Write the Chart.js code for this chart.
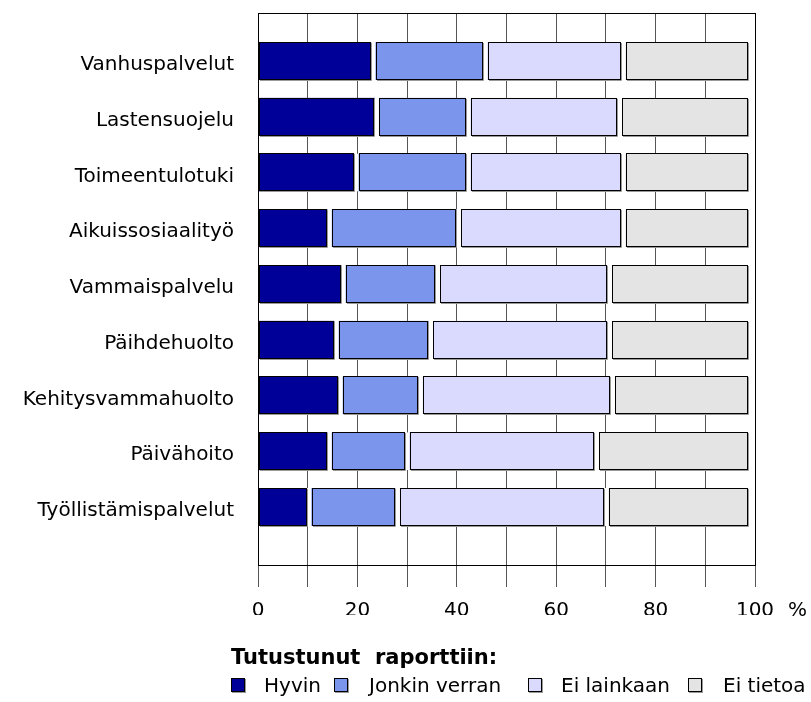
<!DOCTYPE html>
<html>
<head>
<meta charset="utf-8">
<script src="https://cdn.jsdelivr.net/npm/chart.js@4"></script>
<style>
    body { margin: 0; background: #fff; }
    #wrap { position: relative; width: 811px; height: 702px; }
    #legend { position: absolute; left: 0; top: 0; width: 811px; height: 702px; pointer-events: none;
        font-family: Verdana, "DejaVu Sans", sans-serif; font-size: 20px; color: #000; }
    #legend .title { position: absolute; left: 231px; top: 645px; font-size: 21px; font-weight: bold; line-height: 24px; white-space: pre; }
    #legend .txt { position: absolute; top: 673px; line-height: 24px; white-space: pre; }
    #legend .box { position: absolute; top: 678px; width: 12px; height: 12px; border: 1px solid #000; box-shadow: 1px 1px 0 #999; }
</style>
</head>
<body>
<div id="wrap">
    <canvas id="chart" width="811" height="702"></canvas>
    <div id="legend"></div>
</div>
<script>
const categories = ['Vanhuspalvelut', 'Lastensuojelu', 'Toimeentulotuki', 'Aikuissosiaalityö',
    'Vammaispalvelu', 'Päihdehuolto', 'Kehitysvammahuolto', 'Päivähoito', 'Työllistämispalvelut'];
const hyvin = [23.1, 23.8, 19.7, 14.3, 17.1, 15.7, 16.5, 14.3, 10.2];
const jonkinVerran = [22.5, 18.4, 22.5, 26.0, 19.0, 19.0, 16.1, 15.6, 17.8];
const eiLainkaan = [27.8, 30.5, 31.2, 33.1, 34.6, 36.0, 38.7, 38.2, 42.0];
const eiTietoa = [25.5, 26.2, 25.5, 25.5, 28.2, 28.2, 27.6, 30.8, 28.9];
const seriesNames = ['Hyvin', 'Jonkin verran', 'Ei lainkaan', 'Ei tietoa'];
const xTickLabels = [0, 20, 40, 60, 80, 100];
const legendTitle = 'Tutustunut  raporttiin:';

const colors = ['#000099', '#7b95ed', '#dadaff', '#e4e4e4'];
const font = { family: 'Verdana, "DejaVu Sans", sans-serif', size: 20 };
const xLabelPad = 12;

// bars are drawn with a white side border, this leaves the gaps between segments
function sideBorder(i) {
    return { left: i === 0 ? 0 : 3, right: 2, top: 0, bottom: 0 };
}

const datasets = [hyvin, jonkinVerran, eiLainkaan, eiTietoa].map((values, i) => ({
    label: seriesNames[i],
    data: values,
    backgroundColor: colors[i],
    borderColor: '#fff',
    borderWidth: sideBorder(i),
    borderSkipped: false,
    barThickness: 38
}));

// black outline + small grey shadow on every segment, plus the plot frame and the % sign
const decorations = {
    id: 'decorations',
    afterDatasetsDraw(chart) {
        const ctx = chart.ctx;
        const area = chart.chartArea;
        ctx.save();
        ctx.strokeStyle = '#000';
        ctx.lineWidth = 1;
        ctx.strokeRect(Math.round(area.left) + 0.5, Math.round(area.top) + 0.5,
            Math.round(area.right - area.left), Math.round(area.bottom - area.top));

        chart.data.datasets.forEach((ds, di) => {
            const bw = sideBorder(di);
            chart.getDatasetMeta(di).data.forEach(el => {
                const p = el.getProps(['x', 'y', 'base', 'height'], true);
                const x0 = Math.round(Math.min(p.base, p.x) + bw.left);
                const x1 = Math.round(Math.max(p.base, p.x) - bw.right);
                const y0 = Math.round(p.y - p.height / 2);
                const y1 = Math.round(p.y + p.height / 2);
                ctx.strokeStyle = '#999';
                ctx.beginPath();
                ctx.moveTo(x1 + 0.5, y0 + 1);
                ctx.lineTo(x1 + 0.5, y1 + 0.5);
                ctx.lineTo(x0 + 1, y1 + 0.5);
                ctx.stroke();
                ctx.strokeStyle = '#000';
                ctx.strokeRect(x0 + 0.5, y0 + 0.5, x1 - x0 - 1, y1 - y0 - 1);
            });
        });

        const xs = chart.scales.x;
        ctx.fillStyle = '#000';
        ctx.font = `${font.size}px ${font.family}`;
        ctx.textAlign = 'left';
        ctx.textBaseline = 'middle';
        ctx.fillText('%', xs.getPixelForValue(100) + 33, xs.top + 22 + xLabelPad + 12);
        ctx.restore();
    }
};

new Chart(document.getElementById('chart'), {
    type: 'bar',
    data: {
        labels: categories.map((c, i) => i),
        datasets: datasets
    },
    options: {
        indexAxis: 'y',
        responsive: false,
        animation: false,
        devicePixelRatio: 1,
        layout: { padding: { top: 13, right: 56, bottom: 87, left: 0 } },
        scales: {
            x: {
                type: 'linear',
                min: 0,
                max: 100,
                stacked: true,
                grid: { color: '#555', lineWidth: 1, tickLength: 22, tickColor: '#555' },
                border: { display: false },
                ticks: {
                    stepSize: 10,
                    autoSkip: false,
                    maxRotation: 0,
                    padding: xLabelPad,
                    color: '#000',
                    font: font,
                    callback: v => xTickLabels.includes(v) ? String(v) : ''
                },
                afterFit: s => { s.height = 50; s.paddingLeft = 0; s.paddingRight = 0; }
            },
            y: {
                type: 'linear',
                reverse: true,
                offset: false,
                min: -0.86,
                max: 9.04,
                stacked: true,
                grid: { display: false, offset: false },
                border: { display: false },
                afterBuildTicks: s => { s.ticks = categories.map((c, i) => ({ value: i })); },
                ticks: {
                    autoSkip: false,
                    padding: 16,
                    labelOffset: 4,
                    color: '#000',
                    font: font,
                    callback: v => categories[v]
                },
                afterFit: s => { s.width = 258; s.paddingTop = 0; s.paddingBottom = 0; }
            }
        },
        plugins: {
            legend: { display: false },
            tooltip: { enabled: false }
        }
    },
    plugins: [decorations]
});

// legend below the chart, same look as the original report
const legendDiv = document.getElementById('legend');
const boxLeft = [231, 334, 528, 688];
const textLeft = [264, 369, 561, 723];
let html = `<div class="title">${legendTitle}</div>`;
seriesNames.forEach((name, i) => {
    html += `<div class="box" style="left:${boxLeft[i]}px;background:${colors[i]}"></div>`;
    html += `<div class="txt" style="left:${textLeft[i]}px">${name}</div>`;
});
legendDiv.innerHTML = html;
</script>
</body>
</html>
